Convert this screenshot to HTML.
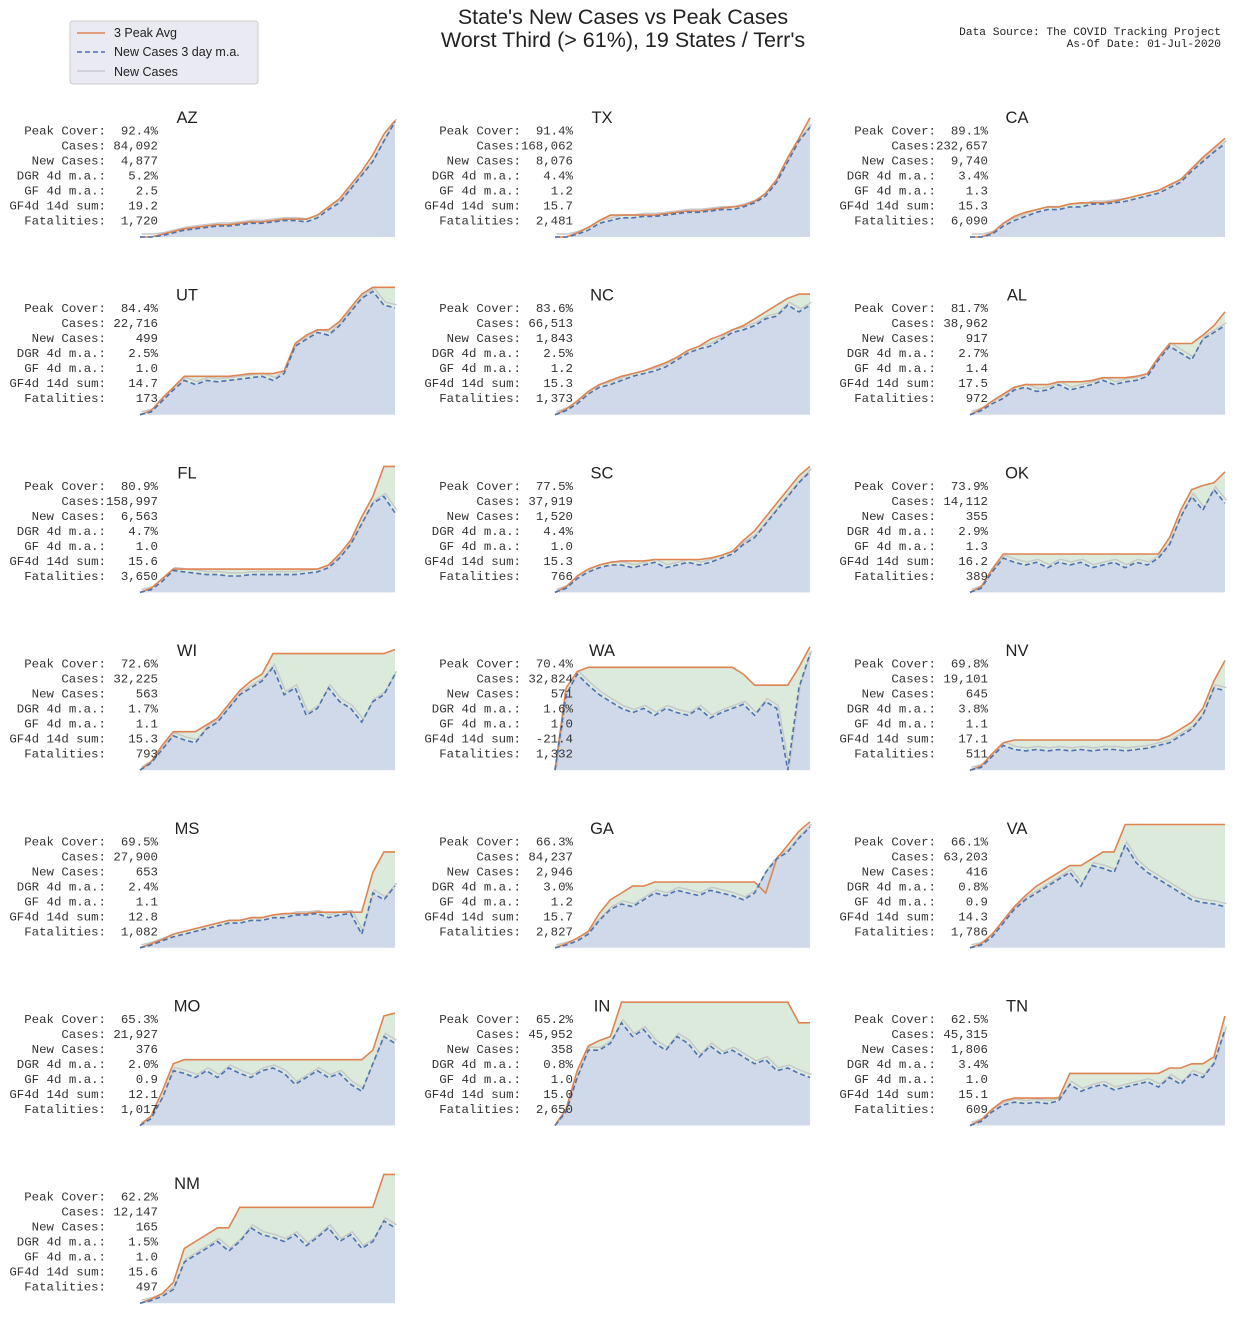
<!DOCTYPE html>
<html><head><meta charset="utf-8"><style>
body{margin:0;background:#fff;width:1246px;height:1312px;overflow:hidden;font-family:"Liberation Sans",sans-serif}
</style></head><body>
<svg id="chart" width="1246" height="1312" xmlns="http://www.w3.org/2000/svg">
<text x="623" y="24" text-anchor="middle" font-size="21.5" fill="#222" font-family="Liberation Sans, sans-serif">State's New Cases vs Peak Cases</text>
<text x="623" y="47" text-anchor="middle" font-size="21.5" fill="#222" font-family="Liberation Sans, sans-serif">Worst Third (&gt; 61%), 19 States / Terr's</text>
<text x="1221" y="35" text-anchor="end" font-size="11.2" fill="#222" font-family="Liberation Mono, monospace" xml:space="preserve">Data Source: The COVID Tracking Project</text>
<text x="1221" y="47" text-anchor="end" font-size="11.2" fill="#222" font-family="Liberation Mono, monospace">As-Of Date: 01-Jul-2020</text>
<g>
<rect x="70" y="21" width="188" height="63" rx="3" fill="#eaeaf2" stroke="#cccccc"/>
<line x1="77" y1="33" x2="105" y2="33" stroke="#dd8452" stroke-width="1.6"/>
<text x="114" y="37" font-size="12.5" fill="#222">3 Peak Avg</text>
<line x1="77" y1="52" x2="105" y2="52" stroke="#4c72b0" stroke-width="1.6" stroke-dasharray="5,3"/>
<text x="114" y="56" font-size="12.5" fill="#222">New Cases 3 day m.a.</text>
<line x1="77" y1="71" x2="105" y2="71" stroke="#c8c8cc" stroke-width="1.6"/>
<text x="114" y="76" font-size="12.5" fill="#222">New Cases</text>
</g>
<g id="panels"></g>
</svg>
<script>
const states=["AZ","TX","CA","UT","NC","AL","FL","SC","OK","WI","WA","NV","MS","GA","VA","MO","IN","TN","NM"];
const peakCover=["92.4%","91.4%","89.1%","84.4%","83.6%","81.7%","80.9%","77.5%","73.9%","72.6%","70.4%","69.8%","69.5%","66.3%","66.1%","65.3%","65.2%","62.5%","62.2%"];
const cases=["84,092","168,062","232,657","22,716","66,513","38,962","158,997","37,919","14,112","32,225","32,824","19,101","27,900","84,237","63,203","21,927","45,952","45,315","12,147"];
const newCases=["4,877","8,076","9,740","499","1,843","917","6,563","1,520","355","563","571","645","653","2,946","416","376","358","1,806","165"];
const dgr=["5.2%","4.4%","3.4%","2.5%","2.5%","2.7%","4.7%","4.4%","2.9%","1.7%","1.6%","3.8%","2.4%","3.0%","0.8%","2.0%","0.8%","3.4%","1.5%"];
const gf=["2.5","1.2","1.3","1.0","1.2","1.4","1.0","1.0","1.3","1.1","1.0","1.1","1.1","1.2","0.9","0.9","1.0","1.0","1.0"];
const gfSum=["19.2","15.7","15.3","14.7","15.3","17.5","15.6","15.3","16.2","15.3","-21.4","17.1","12.8","15.7","14.3","12.1","15.0","15.1","15.6"];
const fatalities=["1,720","2,481","6,090","173","1,373","972","3,650","766","389","793","1,332","511","1,082","2,827","1,786","1,017","2,650","609","497"];
const maAZ=[0,0,1,3,5,6,7,8,8,9,10,10,11,12,12,11,14,20,25,35,45,55,70,84];
const pkAZ=[0,0,2,4,6,7,8,9,9,10,11,11,12,13,13,13,16,22,28,38,48,60,75,85];
const maTX=[0,0,2,5,10,12,14,14,15,15,16,17,18,18,19,20,20,22,25,30,40,55,70,80];
const pkTX=[0,0,3,7,12,16,16,16,16,16,17,18,19,19,20,21,22,23,26,32,42,58,72,87];
const maCA=[0,0,2,8,12,15,18,20,20,22,22,24,24,25,26,28,30,32,36,40,48,55,62,68];
const pkCA=[0,0,3,10,15,18,20,22,22,24,25,25,25,26,28,30,32,34,38,42,50,58,65,72];
const maUT=[0,2,10,18,25,22,25,24,25,26,27,28,25,30,50,55,60,58,65,75,85,90,80,78];
const pkUT=[0,3,12,20,28,28,28,28,28,29,30,30,30,32,52,58,62,62,68,78,88,93,93,93];
const maNC=[0,3,8,15,20,22,25,28,30,32,35,40,45,48,50,55,60,62,65,70,72,80,75,80];
const pkNC=[0,4,10,17,22,25,28,30,32,35,38,42,47,50,55,58,62,65,70,75,80,85,88,88];
const maAL=[0,3,8,12,18,20,17,18,22,18,20,22,25,22,24,25,28,40,50,45,40,55,60,65];
const pkAL=[0,4,10,15,20,22,22,22,24,24,24,25,27,27,27,28,30,42,52,52,52,58,65,75];
const maFL=[0,2,8,16,15,14,13,13,12,12,13,13,13,13,13,14,15,18,25,35,50,65,70,58];
const pkFL=[0,3,10,17,17,17,17,17,17,17,17,17,17,17,17,17,17,20,28,38,55,70,92,92];
const maSC=[0,3,10,15,18,20,20,18,20,22,18,20,22,20,22,25,28,35,40,50,60,70,80,88];
const pkSC=[0,4,12,17,20,22,23,23,23,24,24,24,24,24,25,27,30,38,45,55,65,75,85,92];
const maOK=[0,3,15,25,22,20,22,18,22,20,22,18,20,22,18,22,20,25,35,55,70,60,75,65];
const pkOK=[0,4,17,28,28,28,28,28,28,28,28,28,28,28,28,28,28,28,40,60,75,78,80,88];
const maWI=[0,5,15,25,22,20,30,35,45,55,60,65,75,55,60,40,45,60,50,45,35,50,55,70];
const pkWI=[0,6,18,28,28,28,33,38,48,58,65,70,85,85,85,85,85,85,85,85,85,85,85,88];
const maWA=[0,55,70,62,55,50,45,42,45,40,45,42,40,45,38,42,45,48,40,50,45,0,60,85];
const pkWA=[0,60,72,75,75,75,75,75,75,75,75,75,75,75,75,75,75,70,62,62,62,62,75,90];
const maNV=[0,2,10,18,15,14,15,14,15,14,15,14,15,15,14,15,16,18,20,25,30,40,60,58];
const pkNV=[0,3,12,20,22,22,22,22,22,22,22,22,22,22,22,22,22,22,25,30,35,45,65,80];
const maMS=[0,2,5,8,10,12,14,16,18,18,20,20,22,22,24,24,25,22,24,25,10,40,35,45];
const pkMS=[0,3,6,10,12,14,16,18,20,20,22,22,24,25,25,25,26,26,26,26,26,55,70,70];
const maGA=[0,2,5,10,20,28,32,30,35,40,38,42,40,38,42,40,38,35,40,55,65,70,80,88];
const pkGA=[0,3,7,12,25,35,40,45,45,48,48,48,48,48,48,48,48,48,48,40,65,75,85,92];
const maVA=[0,2,8,18,28,35,40,45,50,55,45,60,58,55,75,62,55,50,45,40,35,33,32,30];
const pkVA=[0,3,10,20,30,38,45,50,55,60,60,65,70,70,90,90,90,90,90,90,90,90,90,90];
const maMO=[0,5,20,40,38,35,40,35,42,38,35,40,42,38,30,35,40,35,38,30,25,45,65,60];
const pkMO=[0,7,25,45,48,48,48,48,48,48,48,48,48,48,48,48,48,48,48,48,48,55,80,82];
const maIN=[0,10,35,55,55,60,75,65,70,60,55,65,60,50,58,52,55,50,45,48,40,42,38,35];
const pkIN=[0,12,40,58,62,65,90,90,90,90,90,90,90,90,90,90,90,90,90,90,90,90,75,75];
const maTN=[0,3,10,15,17,16,17,16,18,30,25,28,30,26,28,30,32,28,35,30,38,35,45,70];
const pkTN=[0,4,12,18,20,20,20,20,20,38,38,38,38,38,38,38,38,38,42,42,45,45,50,80];
const maNM=[0,2,5,10,30,35,40,45,38,45,55,50,48,45,50,42,48,55,45,50,40,45,60,55];
const pkNM=[0,3,7,15,40,45,50,55,55,70,70,70,70,70,70,70,70,70,70,70,70,70,94,94];
const maAll=[maAZ,maTX,maCA,maUT,maNC,maAL,maFL,maSC,maOK,maWI,maWA,maNV,maMS,maGA,maVA,maMO,maIN,maTN,maNM];
const pkAll=[pkAZ,pkTX,pkCA,pkUT,pkNC,pkAL,pkFL,pkSC,pkOK,pkWI,pkWA,pkNV,pkMS,pkGA,pkVA,pkMO,pkIN,pkTN,pkNM];

const NS="http://www.w3.org/2000/svg";
const root=document.getElementById('panels');
function mk(tag,attrs,parent){const e=document.createElementNS(NS,tag);for(const k in attrs)e.setAttribute(k,attrs[k]);parent.appendChild(e);return e;}
const PW=255,PH=137;
states.forEach((st,i)=>{
  const col=i%3,row=Math.floor(i/3);
  const left=140+col*415, bottom=237+row*177.7;
  const g=mk('g',{},root);
  
  
  const ma=maAll[i],pk=pkAll[i],n=ma.length;
  const xs=k=>left+k*PW/(n-1);
  const ys=v=>bottom-Math.max(0,v)/100*PH;
  let maPts=ma.map((v,k)=>xs(k).toFixed(1)+','+ys(v).toFixed(1));
  let pkPts=pk.map((v,k)=>xs(k).toFixed(1)+','+ys(v).toFixed(1));
  const green=mk('polygon',{points:pkPts.join(' ')+' '+maPts.slice().reverse().join(' '),fill:'#dbeadb'},g);
  
  
  const blue=mk('polygon',{points:maPts.join(' ')+' '+xs(n-1)+','+bottom+' '+left+','+bottom,fill:'#d0d9ea'},g);
  
  
  const raw=mk('polyline',{points:maPts.join(' '),fill:'none',stroke:'#c8c8cc','stroke-width':1.5,transform:'translate(1.5,-3)'},g);
  
  
  const pl=mk('polyline',{points:pkPts.join(' '),fill:'none',stroke:'#dd8452','stroke-width':1.6},g);
  
  
  const ml=mk('polyline',{points:maPts.join(' '),fill:'none',stroke:'#4c72b0','stroke-width':1.6,'stroke-dasharray':'5,3'},g);
  
  
  const t=mk('text',{x:left+47,y:bottom-114,'text-anchor':'middle','font-size':16.5,fill:'#222'},g);
  t.textContent=st;
  
  
  const labels=["Peak Cover:","Cases:","New Cases:","DGR 4d m.a.:","GF 4d m.a.:","GF4d 14d sum:","Fatalities:"];
  const vals=[peakCover[i],cases[i],newCases[i],dgr[i],gf[i],gfSum[i],fatalities[i]];
  labels.forEach((lb,k)=>{
    const y=bottom-102.5+15*k;
    const a=mk('text',{x:left-34,y:y,'text-anchor':'end','font-size':12.4,fill:'#333','font-family':'Liberation Mono, monospace'},g);
    a.textContent=lb;
    
    
    const b=mk('text',{x:left+18,y:y,'text-anchor':'end','font-size':12.4,fill:'#333','font-family':'Liberation Mono, monospace'},g);
    b.textContent=vals[k];
    
    
  });
});
</script>
</body></html>
